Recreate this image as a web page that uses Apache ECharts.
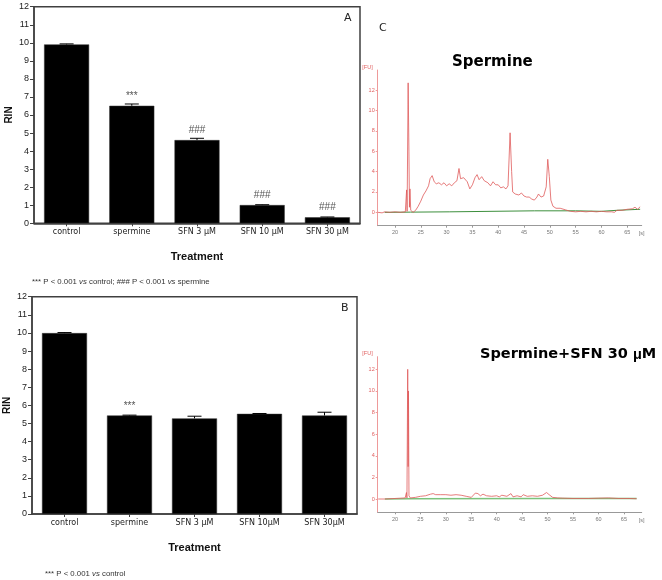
<!DOCTYPE html>
<html>
<head>
<meta charset="utf-8">
<script src="https://cdn.jsdelivr.net/npm/echarts@6/dist/echarts.min.js"></script>
<style>html,body{margin:0;padding:0;background:#fff}#c{width:662px;height:580px}</style>
</head>
<body>
<div id="c"></div>
<script>
// ---- Data ----
const catsA = ['control', 'spermine', 'SFN 3 \u03bcM', 'SFN 10 \u03bcM', 'SFN 30 \u03bcM'];
const catsB = ['control', 'spermine', 'SFN 3 \u03bcM', 'SFN 10\u03bcM', 'SFN 30\u03bcM'];
const rinA = [9.91, 6.51, 4.61, 1.01, 0.33];
const errA = [0.03, 0.1, 0.1, 0.02, 0.02];
const annotA = ['', '***', '###', '###', '###'];
const rinB = [9.99, 5.44, 5.28, 5.53, 5.44];
const errB = [0.03, 0.02, 0.12, 0.02, 0.18];
const annotB = ['', '***', '', '', ''];
const fuTicks = [0, 2, 4, 6, 8, 10, 12];
const timeTicks = [20, 25, 30, 35, 40, 45, 50, 55, 60, 65];

// electropherogram: spermine (time [s], FU)
const traceSpermine = [
  [16.7,0],[17.5,-0.05],[18,0.05],[19,0],[20,0.05],[21,0],[22,0.05],[22.15,0.05],[22.25,2.2],[22.35,0.1],
  [22.55,12.7],[22.7,6],[22.8,0.5],[22.9,2.3],[23.05,0.2],[23.5,0],[24,0.2],[24.5,0.6],[25,1.1],[25.5,1.7],
  [26,2.1],[26.5,2.6],[26.8,3.3],[27.2,3.6],[27.6,3.0],[28,2.8],[28.5,2.9],[29,2.7],[29.5,2.9],[30,2.6],
  [30.5,2.8],[31,2.6],[31.5,2.9],[32,3.1],[32.4,4.3],[32.7,3.3],[33.3,3.4],[34,3.0],[34.5,2.3],[35,2.7],
  [35.5,3.4],[35.9,3.7],[36.3,3.2],[36.8,3.5],[37.3,3.1],[38,2.9],[38.5,2.6],[39,3.0],[39.5,2.7],[40,2.7],
  [40.5,2.4],[41,2.5],[41.5,2.3],[41.9,2.6],[42.3,7.8],[42.6,4],[42.8,2.0],[43.3,1.8],[44,1.7],[44.5,1.9],
  [45,1.6],[45.5,1.5],[46,1.5],[46.5,1.3],[47,1.2],[47.5,1.5],[47.8,1.8],[48.3,1.5],[48.8,1.6],[49.3,2.5],
  [49.6,5.2],[49.9,3.5],[50.2,1.2],[50.6,0.6],[51.2,0.4],[52,0.4],[53,0.25],[54,0.1],[55,0.05],[56,0.1],
  [57,0.05],[58,0.1],[59,0.05],[60,0.1],[61,0.05],[62,0.05],[62.5,0],[63,0.2],[64,0.2],[65,0.3],
  [66,0.35],[66.5,0.5],[67,0.3],[67.5,0.55]
];
const baseSpermine = [[18,0],[23,0.02],[30.5,0.05],[30.6,0.1],[47,0.15],[47.1,0.2],[55,0.15],[60,0.1],[63,0.2],[67.5,0.3]];

// electropherogram: spermine + SFN 30 uM
const traceSfn = [
  [16.7,0],[18,0],[20,0.05],[22,0.1],[22.25,0.6],[22.35,0.1],[22.5,12],[22.58,3],[22.65,10],[22.75,0.3],
  [23,0.1],[24,0.15],[25,0.25],[26,0.3],[27,0.45],[27.5,0.5],[28,0.4],[29,0.4],[30,0.4],[31,0.35],
  [32,0.4],[33,0.35],[34,0.25],[35,0.15],[35.8,0.55],[36.3,0.5],[36.8,0.3],[37.3,0.45],[38,0.3],[39,0.25],
  [40,0.3],[40.5,0.2],[41,0.35],[42,0.25],[42.8,0.5],[43.2,0.2],[44,0.3],[44.8,0.2],[45.2,0.4],[46,0.25],
  [47,0.3],[48,0.25],[49,0.35],[49.8,0.6],[50.3,0.4],[51,0.15],[52,0.1],[53,0.08],[55,0.05],[58,0.05],
  [60,0.08],[62,0.1],[64,0.05],[66,0.05],[67.5,0.02]
];
const baseSfn = [[18,0],[23,0.03],[50,0.05],[67.5,0.05]];

// ---- Chart ----
const chart = echarts.init(document.getElementById('c'), null, {renderer: 'canvas'});

function errRender(params, api) {
  const x = api.value(0), v = api.value(1), e = api.value(2);
  const base = api.coord([x, v]);
  const top = api.coord([x, v + e]);
  const hw = 7;
  return {type: 'group', children: [
    {type: 'line', shape: {x1: top[0], y1: base[1], x2: top[0], y2: top[1]}, style: {stroke: '#000', lineWidth: 1}},
    {type: 'line', shape: {x1: top[0] - hw, y1: top[1], x2: top[0] + hw, y2: top[1]}, style: {stroke: '#000', lineWidth: 1}}
  ]};
}

const axisCol = '#404040';
const sans = 'Liberation Sans';

function barX(idx, cats) {
  return {
    type: 'category', gridIndex: idx, data: cats,
    axisLine: {lineStyle: {color: axisCol, width: 1.5}},
    axisTick: {show: true, alignWithLabel: true, length: 3, lineStyle: {color: axisCol}},
    axisLabel: {fontFamily: 'DejaVu Sans', fontSize: 8, color: '#222', margin: 5},
    name: 'Treatment', nameLocation: 'middle', nameGap: 28,
    nameTextStyle: {fontFamily: sans, fontWeight: 'bold', fontSize: 11, color: '#111'}
  };
}
function barY(idx) {
  return {
    type: 'value', gridIndex: idx, min: 0, max: 12, interval: 1,
    axisLine: {show: true, lineStyle: {color: axisCol, width: 1.5}},
    axisTick: {show: true, length: 4, lineStyle: {color: axisCol}},
    axisLabel: {fontFamily: sans, fontSize: 9, color: '#222', margin: 5},
    splitLine: {show: false},
    name: 'RIN', nameLocation: 'middle', nameGap: 20,
    nameTextStyle: {fontFamily: sans, fontWeight: 'bold', fontSize: 10, color: '#111'}
  };
}
function feX(idx, min, max) {
  return {
    type: 'value', gridIndex: idx, min: min, max: max,
    axisLine: {onZero: false, lineStyle: {color: '#999', width: 1}},
    axisTick: {show: true, length: 2, customValues: timeTicks, lineStyle: {color: '#999'}},
    axisLabel: {fontFamily: sans, fontSize: 5.5, color: '#777', margin: 4, customValues: timeTicks},
    splitLine: {show: false},
    name: '[s]', nameLocation: 'end', nameGap: 0,
    nameTextStyle: {fontFamily: sans, fontSize: 5.5, color: '#777', align: 'center', verticalAlign: 'top', padding: [5, 0, 0, 0]}
  };
}
function feY(idx, min, max) {
  return {
    type: 'value', gridIndex: idx, min: min, max: max,
    axisLine: {show: true, lineStyle: {color: '#ee9a9a', width: 1}},
    axisTick: {show: true, length: 2, customValues: fuTicks, lineStyle: {color: '#ee9a9a'}},
    axisLabel: {fontFamily: sans, fontSize: 5.5, color: '#e06060', margin: 3, customValues: fuTicks},
    splitLine: {show: false},
    name: '[FU]', nameLocation: 'end', nameGap: 3,
    nameTextStyle: {fontFamily: sans, fontSize: 5.5, color: '#e06060', align: 'right', verticalAlign: 'middle', padding: [0, 5, 0, 0]}
  };
}

const noteRich = {
  n: {fontFamily: sans, fontSize: 7.8, fontWeight: 'normal', color: '#333'},
  i: {fontFamily: sans, fontSize: 7.8, fontWeight: 'normal', fontStyle: 'italic', color: '#333'}
};
const panelLbl = {fontFamily: 'DejaVu Sans', fontSize: 11, fontWeight: 'normal', color: '#222'};

const option = {
  backgroundColor: '#fff',
  animation: false,
  title: [
    {text: 'A', left: 344, top: 13, padding: 0, textStyle: panelLbl},
    {text: 'B', left: 341, top: 303, padding: 0, textStyle: panelLbl},
    {text: 'C', left: 379, top: 23, padding: 0, textStyle: panelLbl},
    {text: 'Spermine', left: 452, top: 55, padding: 0, textStyle: {fontFamily: 'DejaVu Sans', fontSize: 15, fontWeight: 'bold', color: '#000'}},
    {text: '{t|Spermine+SFN 30 }{m|\u03bc}{t|M}', left: 480, top: 347, padding: 0,
      textStyle: {rich: {
        t: {fontFamily: 'DejaVu Sans', fontSize: 14.5, fontWeight: 'bold', color: '#000'},
        m: {fontFamily: 'Liberation Sans', fontSize: 14.5, fontWeight: 'bold', color: '#000'}}}},
    {text: '{n|*** P < 0.001 }{i|vs}{n| control; ### P < 0.001 }{i|vs}{n| spermine}', left: 32, top: 278, padding: 0,
      textStyle: {fontWeight: 'normal', rich: noteRich}},
    {text: '{n|*** P < 0.001 }{i|vs}{n| control}', left: 45, top: 570, padding: 0,
      textStyle: {fontWeight: 'normal', rich: noteRich}}
  ],
  grid: [
    {left: 34, top: 6.7, width: 326, height: 216.6, show: true, borderColor: axisCol, borderWidth: 1.5, backgroundColor: 'transparent'},
    {left: 32, top: 296.7, width: 325, height: 217.3, show: true, borderColor: axisCol, borderWidth: 1.5, backgroundColor: 'transparent'},
    {left: 377.7, top: 70, width: 264, height: 155.7},
    {left: 377.7, top: 356.7, width: 264, height: 155.6}
  ],
  xAxis: [barX(0, catsA), barX(1, catsB), feX(2, 16.65, 67.8), feX(3, 16.6, 68.5)],
  yAxis: [barY(0), barY(1), feY(2, -1.31, 13.96), feY(3, -1.23, 13.17)],
  series: [
    {type: 'bar', xAxisIndex: 0, yAxisIndex: 0, data: rinA, barWidth: 45,
      itemStyle: {color: '#000', borderColor: '#333', borderWidth: 0.5},
      label: {show: true, position: 'top', distance: 5, fontFamily: sans, fontSize: 10, color: '#555',
        formatter: p => annotA[p.dataIndex]}},
    {type: 'custom', xAxisIndex: 0, yAxisIndex: 0, renderItem: errRender, z: 5,
      data: rinA.map((v, i) => [i, v, errA[i]])},
    {type: 'bar', xAxisIndex: 1, yAxisIndex: 1, data: rinB, barWidth: 45,
      itemStyle: {color: '#000', borderColor: '#333', borderWidth: 0.5},
      label: {show: true, position: 'top', distance: 4, fontFamily: sans, fontSize: 10, color: '#555',
        formatter: p => annotB[p.dataIndex]}},
    {type: 'custom', xAxisIndex: 1, yAxisIndex: 1, renderItem: errRender, z: 5,
      data: rinB.map((v, i) => [i, v, errB[i]])},
    {type: 'line', xAxisIndex: 2, yAxisIndex: 2, data: baseSpermine, showSymbol: false,
      lineStyle: {color: '#3d8f3d', width: 1}, z: 2},
    {type: 'line', xAxisIndex: 2, yAxisIndex: 2, data: traceSpermine, showSymbol: false,
      lineStyle: {color: '#e05a5a', width: 0.8}, z: 3},
    {type: 'line', xAxisIndex: 3, yAxisIndex: 3, data: baseSfn, showSymbol: false,
      lineStyle: {color: '#7cc27c', width: 1.6}, z: 2},
    {type: 'line', xAxisIndex: 3, yAxisIndex: 3, data: traceSfn, showSymbol: false,
      lineStyle: {color: '#e05a5a', width: 0.8}, z: 3}
  ]
};
chart.setOption(option);
</script>
</body>
</html>
